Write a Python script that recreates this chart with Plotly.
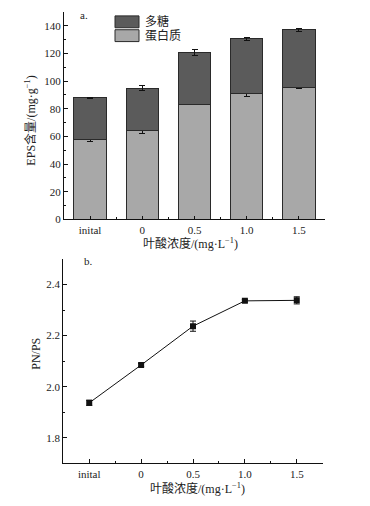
import plotly.graph_objects as go

categories = ["inital", "0", "0.5", "1.0", "1.5"]
protein = [57.8, 64.2, 83.4, 91.4, 95.6]
protein_err = [1.8, 2.0, 0.4, 2.2, 0.8]
total = [87.8, 94.9, 120.6, 130.6, 137.0]
total_err = [0.6, 2.0, 2.0, 1.0, 0.8]
polysaccharide = [t - p for t, p in zip(total, protein)]
pnps = [1.937, 2.085, 2.237, 2.336, 2.338]
pnps_err = [0.010, 0.006, 0.020, 0.005, 0.014]

xpos = list(range(len(categories)))
FONT = "Liberation Serif, Times New Roman, Noto Sans CJK SC, serif"
DARK = "#5b5b5b"
LIGHT = "#a8a8a8"
EDGE = "#2a2a2a"

# page body has an 8px margin; figure is sized to fill the remaining window
OFF = 8
W, H = 370 - OFF, 506 - OFF


def xp(px):
    return (px - OFF) / W


def yp(py):
    return 1 - (py - OFF) / H


fig = go.Figure()
fig.add_trace(go.Bar(
    x=xpos, y=protein, name="蛋白质", marker=dict(color=LIGHT, line=dict(color=EDGE, width=1)),
    error_y=dict(type="data", array=protein_err, color="#111", thickness=1, width=3),
    width=0.62, xaxis="x", yaxis="y", showlegend=False))
fig.add_trace(go.Bar(
    x=xpos, y=polysaccharide, name="多糖", marker=dict(color=DARK, line=dict(color=EDGE, width=1)),
    error_y=dict(type="data", array=total_err, color="#111", thickness=1, width=3),
    width=0.62, xaxis="x", yaxis="y", showlegend=False))
fig.add_trace(go.Scatter(
    x=xpos, y=pnps, mode="lines+markers",
    line=dict(color="#111", width=1), marker=dict(symbol="square", size=6, color="#111"),
    error_y=dict(type="data", array=pnps_err, color="#111", thickness=1, width=3),
    xaxis="x2", yaxis="y2", showlegend=False))

axis_common = dict(showline=True, linecolor="#111", linewidth=1, showgrid=False, zeroline=False,
                   ticks="inside", tickcolor="#111", tickfont=dict(family=FONT, size=11, color="#222"))
minor_x = dict(tickmode="array", tickvals=[-0.5, 0.5, 1.5, 2.5, 3.5, 4.5], ticks="inside",
               ticklen=2, tickcolor="#111")

fig.update_layout(
    width=W, height=H, autosize=False,
    margin=dict(l=0, r=0, t=0, b=0),
    paper_bgcolor="white", plot_bgcolor="white",
    barmode="stack", bargap=0.38,
    font=dict(family=FONT, size=12, color="#222"),
    xaxis=dict(domain=[xp(64), xp(325)], anchor="y", range=[-0.5, 4.5],
               tickmode="array", tickvals=xpos, ticktext=categories, ticklen=3,
               minor=minor_x, **axis_common),
    yaxis=dict(domain=[yp(222), yp(12)], anchor="x", range=[0, 150], dtick=20, ticklen=4,
               minor=dict(dtick=10, ticks="inside", ticklen=2, tickcolor="#111"),
               **axis_common),
    xaxis2=dict(domain=[xp(63.3), xp(322.7)], anchor="y2", range=[-0.5, 4.5],
                tickmode="array", tickvals=xpos, ticktext=categories, ticklen=4,
                minor=minor_x, **axis_common),
    yaxis2=dict(domain=[yp(469), yp(262)], anchor="x2", range=[1.7, 2.5], dtick=0.2, tick0=1.8, ticklen=4,
                tickformat=".1f",
                minor=dict(dtick=0.1, tick0=1.7, ticks="inside", ticklen=2, tickcolor="#111"),
                **axis_common),
)

# legend (drawn manually)
fig.add_shape(type="rect", xref="paper", yref="paper",
              x0=xp(115), x1=xp(139), y0=yp(28), y1=yp(16),
              fillcolor=DARK, line=dict(color=EDGE, width=1))
fig.add_shape(type="rect", xref="paper", yref="paper",
              x0=xp(115), x1=xp(139), y0=yp(42), y1=yp(30),
              fillcolor=LIGHT, line=dict(color=EDGE, width=1))
ann = [
    dict(text="多糖", x=143, y=22, xanchor="left", size=12),
    dict(text="蛋白质", x=143, y=36, xanchor="left", size=12),
    dict(text="a.", x=78, y=15, xanchor="left", size=11),
    dict(text="b.", x=82, y=264, xanchor="left", size=11),
    dict(text="叶酸浓度/(mg·L<sup>−1</sup>)", x=190, y=246, xanchor="center", size=12),
    dict(text="叶酸浓度/(mg·L<sup>−1</sup>)", x=197, y=494, xanchor="center", size=12),
    dict(text="EPS含量/(mg·g<sup>−1</sup>)", x=31, y=122, xanchor="center", size=12, textangle=-90),
    dict(text="PN/PS", x=36, y=358, xanchor="center", size=12, textangle=-90),
]
for a in ann:
    fig.add_annotation(text=a["text"], x=xp(a["x"]), y=yp(a["y"]), xref="paper", yref="paper",
                       xanchor=a["xanchor"], yanchor="middle", showarrow=False,
                       textangle=a.get("textangle", 0),
                       font=dict(family=FONT, size=a["size"], color="#222"))

fig.write_html("out.html")
